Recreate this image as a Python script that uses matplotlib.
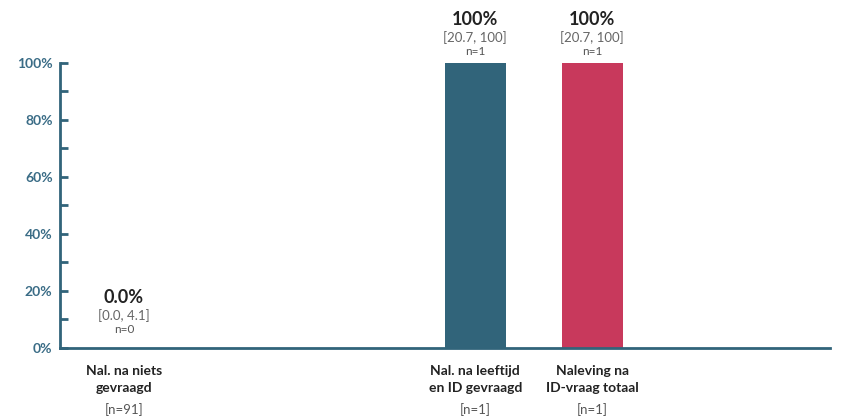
import numpy as np
import matplotlib.pyplot as plt

plt.rcParams['font.family'] = ['Lato', 'DejaVu Sans']

# data
positions = [0, 3, 4]
values = [0.0, 1.0, 1.0]
value_labels = ['0.0%', '100%', '100%']
ci_labels = ['[0.0, 4.1]', '[20.7, 100]', '[20.7, 100]']
n_labels = ['n=0', 'n=1', 'n=1']
cat_labels = ['Nal. na niets\ngevraagd', 'Nal. na leeftijd\nen ID gevraagd', 'Naleving na\nID-vraag totaal']
cat_n = ['[n=91]', '[n=1]', '[n=1]']
colors = ['#31647A', '#31647A', '#C8395C']

axis_col = '#31647A'
tick_col = '#3A6C86'

fig = plt.figure(figsize=(8.44, 4.19), dpi=100)
ax = fig.add_axes([0.0705, 0.1695, 0.913, 0.6805])

ax.bar(positions, values, width=0.52, color=colors)

ax.set_xlim(-0.55, 6.03)
ax.set_ylim(0, 1)

for s in ['top', 'right']:
    ax.spines[s].set_visible(False)
for s in ['left', 'bottom']:
    ax.spines[s].set_color(axis_col)
    ax.spines[s].set_linewidth(2.0)

yt = np.arange(0, 1.01, 0.1)
ax.set_yticks(yt)
ax.set_yticklabels(['%d%%' % round(v * 100) if i % 2 == 0 else '' for i, v in enumerate(yt)],
                   fontsize=10, fontweight='bold', color=tick_col)
ax.tick_params(axis='y', direction='in', length=6, width=2, color=axis_col, pad=5)
ax.set_xticks([])

# value annotations above bars (small bars get a little extra room)
for x, v, vl, ci, n in zip(positions, values, value_labels, ci_labels, n_labels):
    extra = 5 if v < 0.05 else 0
    ax.annotate(vl, xy=(x, v), xytext=(0, 31 + extra), textcoords='offset points',
                ha='center', va='center', fontsize=13, fontweight='bold', color='#222222')
    ax.annotate(ci, xy=(x, v), xytext=(0, 18 + extra), textcoords='offset points',
                ha='center', va='center', fontsize=9.5, color='#666666')
    ax.annotate(n, xy=(x, v), xytext=(0, 8.5 + extra), textcoords='offset points',
                ha='center', va='center', fontsize=8.5, color='#555555')

# category labels
for x, cl, cn in zip(positions, cat_labels, cat_n):
    ax.annotate(cl, xy=(x, 0), xycoords=('data', 'axes fraction'), xytext=(0, -12),
                textcoords='offset points', ha='center', va='top', fontsize=10,
                fontweight='bold', color='#222222', linespacing=1.55)
    ax.annotate(cn, xy=(x, 0), xycoords=('data', 'axes fraction'), xytext=(0, -44),
                textcoords='offset points', ha='center', va='center', fontsize=9.5,
                color='#555555')

fig.savefig('out.png', dpi=100)
